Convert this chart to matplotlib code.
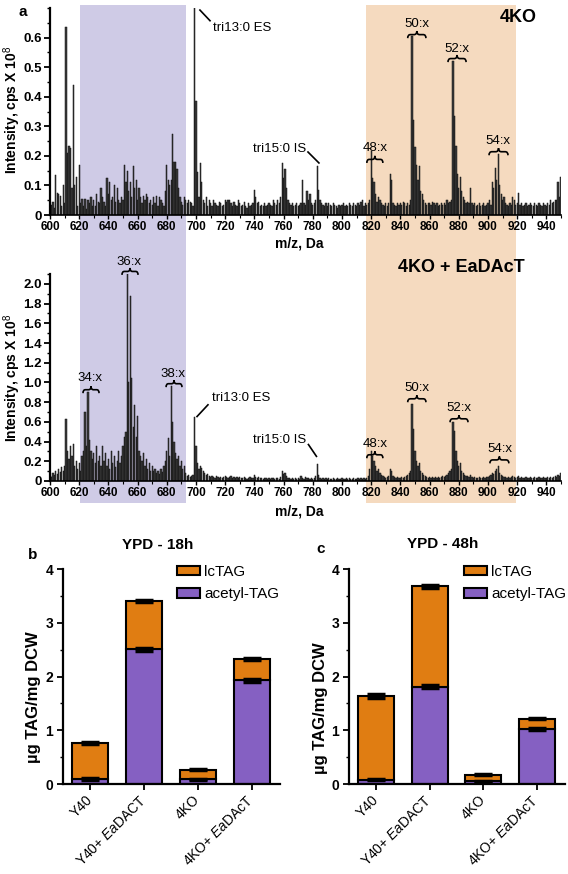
import matplotlib
matplotlib.use('Agg')
import matplotlib.pyplot as plt
from matplotlib.patches import Rectangle, Patch, PathPatch
from matplotlib.path import Path
from matplotlib.ticker import MultipleLocator
import matplotlib.transforms as mtrans
import numpy as np

plt.rcParams['font.family'] = ['Liberation Sans', 'DejaVu Sans']
plt.rcParams['mathtext.fontset'] = 'custom'
plt.rcParams['mathtext.rm'] = 'Liberation Sans'
plt.rcParams['mathtext.it'] = 'Liberation Sans:italic'
plt.rcParams['mathtext.bf'] = 'Liberation Sans:bold'

# ---------------- data ----------------
mz_start = 600
mz_end = 950

# 4KO spectrum, intensities (x 10^8 cps) for m/z 600..950
ko_intensity = [
    0.03, 0.035, 0.045, 0.025, 0.135, 0.075, 0.07, 0.065, 0.03, 0.10,
    0.04, 0.635, 0.21, 0.235, 0.225, 0.09, 0.44, 0.10, 0.13, 0.03,
    0.17, 0.04, 0.055, 0.03, 0.055, 0.02, 0.05, 0.04, 0.06, 0.03,
    0.05, 0.03, 0.07, 0.045, 0.04, 0.09, 0.06, 0.045, 0.03, 0.125,
    0.07, 0.11, 0.05, 0.06, 0.10, 0.045, 0.09, 0.05, 0.04, 0.06,
    0.05, 0.17, 0.11, 0.15, 0.08, 0.11, 0.06, 0.165, 0.09, 0.12,
    0.05, 0.09, 0.06, 0.04, 0.065, 0.05, 0.07, 0.06, 0.04, 0.05,
    0.035, 0.06, 0.04, 0.065, 0.03, 0.06, 0.05, 0.04, 0.03, 0.08,
    0.17, 0.12, 0.10, 0.12, 0.275, 0.18, 0.18, 0.155, 0.09, 0.06,
    0.045, 0.035, 0.06, 0.05, 0.04, 0.05, 0.045, 0.04, 0.03, 0.95,
    0.385, 0.145, 0.06, 0.175, 0.11, 0.05, 0.04, 0.06, 0.03, 0.05,
    0.04, 0.03, 0.05, 0.04, 0.035, 0.03, 0.045, 0.04, 0.03, 0.035,
    0.05, 0.045, 0.05, 0.05, 0.04, 0.03, 0.045, 0.035, 0.03, 0.05,
    0.04, 0.03, 0.035, 0.045, 0.03, 0.025, 0.04, 0.03, 0.035, 0.04,
    0.085, 0.06, 0.04, 0.045, 0.03, 0.035, 0.03, 0.04, 0.03, 0.035,
    0.04, 0.035, 0.03, 0.05, 0.04, 0.035, 0.05, 0.04, 0.06, 0.175,
    0.125, 0.155, 0.09, 0.05, 0.04, 0.035, 0.04, 0.03, 0.035, 0.04,
    0.03, 0.035, 0.04, 0.12, 0.04, 0.035, 0.08, 0.05, 0.07, 0.04,
    0.035, 0.04, 0.05, 0.167, 0.085, 0.05, 0.04, 0.035, 0.03, 0.04,
    0.03, 0.04, 0.035, 0.03, 0.04, 0.035, 0.03, 0.025, 0.035, 0.03,
    0.035, 0.04, 0.03, 0.035, 0.03, 0.04, 0.035, 0.03, 0.04, 0.035,
    0.03, 0.04, 0.035, 0.045, 0.05, 0.03, 0.04, 0.035, 0.04, 0.05,
    0.215, 0.125, 0.11, 0.07, 0.045, 0.06, 0.05, 0.04, 0.035, 0.03,
    0.04, 0.03, 0.04, 0.14, 0.12, 0.04, 0.035, 0.03, 0.04, 0.035,
    0.04, 0.035, 0.045, 0.04, 0.03, 0.04, 0.035, 0.05, 0.605, 0.32,
    0.23, 0.17, 0.12, 0.165, 0.08, 0.07, 0.05, 0.04, 0.035, 0.04,
    0.04, 0.035, 0.045, 0.04, 0.035, 0.04, 0.03, 0.035, 0.04, 0.035,
    0.04, 0.035, 0.05, 0.04, 0.045, 0.05, 0.52, 0.335, 0.235, 0.14,
    0.09, 0.13, 0.08, 0.06, 0.05, 0.04, 0.045, 0.04, 0.09, 0.04,
    0.035, 0.04, 0.03, 0.035, 0.04, 0.03, 0.035, 0.04, 0.03, 0.035,
    0.04, 0.05, 0.035, 0.11, 0.09, 0.16, 0.12, 0.205, 0.10, 0.07,
    0.05, 0.06, 0.04, 0.035, 0.03, 0.04, 0.035, 0.06, 0.05, 0.035,
    0.04, 0.075, 0.035, 0.04, 0.03, 0.035, 0.04, 0.03, 0.035, 0.04,
    0.035, 0.03, 0.04, 0.035, 0.03, 0.04, 0.035, 0.03, 0.04, 0.035,
    0.03, 0.04, 0.035, 0.05, 0.04, 0.045, 0.05, 0.05, 0.11, 0.06,
    0.13,
]

# 4KO + EaDAcT spectrum, intensities (x 10^8 cps) for m/z 600..950
ea_intensity = [
    0.05, 0.04, 0.08, 0.06, 0.10, 0.07, 0.12, 0.09, 0.14, 0.10,
    0.15, 0.63, 0.30, 0.22, 0.35, 0.25, 0.38, 0.15, 0.20, 0.12,
    0.18, 0.10, 0.25, 0.30, 0.70, 0.35, 0.90, 0.42, 0.30, 0.22,
    0.28, 0.18, 0.35, 0.20, 0.25, 0.15, 0.36, 0.20, 0.28, 0.15,
    0.22, 0.12, 0.30, 0.18, 0.25, 0.14, 0.20, 0.30, 0.18, 0.25,
    0.35, 0.45, 0.50, 2.10, 1.00, 1.88, 1.05, 0.55, 0.77, 0.45,
    0.66, 0.30, 0.25, 0.20, 0.28, 0.15, 0.22, 0.12, 0.18, 0.10,
    0.15, 0.10, 0.12, 0.08, 0.10, 0.07, 0.12, 0.09, 0.15, 0.20,
    0.30, 0.44, 0.25, 0.96, 0.60, 0.40, 0.28, 0.22, 0.25, 0.15,
    0.20, 0.12, 0.15, 0.08, 0.05, 0.06, 0.04, 0.05, 0.06, 0.65,
    0.36, 0.18, 0.12, 0.15, 0.13, 0.10, 0.08, 0.06, 0.07, 0.05,
    0.04, 0.05, 0.04, 0.03, 0.05, 0.04, 0.03, 0.04, 0.03, 0.04,
    0.05, 0.04, 0.03, 0.04, 0.05, 0.03, 0.04, 0.03, 0.04, 0.03,
    0.04, 0.03, 0.03, 0.04, 0.03, 0.02, 0.03, 0.04, 0.03, 0.03,
    0.06, 0.04, 0.03, 0.04, 0.03, 0.03, 0.02, 0.03, 0.03, 0.02,
    0.03, 0.02, 0.03, 0.03, 0.02, 0.03, 0.03, 0.02, 0.04, 0.10,
    0.07, 0.08, 0.05, 0.03, 0.03, 0.02, 0.03, 0.02, 0.03, 0.02,
    0.03, 0.02, 0.05, 0.03, 0.02, 0.04, 0.03, 0.03, 0.02, 0.03,
    0.02, 0.03, 0.05, 0.17, 0.06, 0.03, 0.02, 0.03, 0.02, 0.03,
    0.02, 0.03, 0.02, 0.02, 0.03, 0.02, 0.02, 0.03, 0.02, 0.02,
    0.03, 0.02, 0.02, 0.03, 0.02, 0.03, 0.02, 0.02, 0.03, 0.02,
    0.02, 0.03, 0.02, 0.03, 0.02, 0.03, 0.02, 0.03, 0.05, 0.12,
    0.30, 0.25, 0.20, 0.15, 0.10, 0.12, 0.08, 0.06, 0.05, 0.04,
    0.03, 0.04, 0.05, 0.12, 0.10, 0.05, 0.04, 0.03, 0.04, 0.03,
    0.03, 0.04, 0.03, 0.04, 0.05, 0.06, 0.08, 0.10, 0.78, 0.53,
    0.30, 0.20, 0.15, 0.18, 0.10, 0.08, 0.06, 0.05, 0.04, 0.03,
    0.04, 0.03, 0.04, 0.03, 0.04, 0.03, 0.04, 0.03, 0.04, 0.05,
    0.04, 0.05, 0.06, 0.08, 0.10, 0.12, 0.60, 0.51, 0.30, 0.20,
    0.15, 0.18, 0.10, 0.08, 0.06, 0.05, 0.05, 0.04, 0.06, 0.04,
    0.03, 0.04, 0.03, 0.03, 0.04, 0.03, 0.03, 0.04, 0.03, 0.04,
    0.04, 0.05, 0.06, 0.08, 0.07, 0.10, 0.12, 0.15, 0.08, 0.06,
    0.05, 0.04, 0.04, 0.03, 0.04, 0.03, 0.04, 0.05, 0.04, 0.03,
    0.04, 0.05, 0.03, 0.04, 0.03, 0.03, 0.04, 0.03, 0.03, 0.04,
    0.03, 0.03, 0.04, 0.03, 0.03, 0.04, 0.03, 0.03, 0.04, 0.03,
    0.03, 0.04, 0.03, 0.04, 0.03, 0.04, 0.05, 0.04, 0.06, 0.05,
    0.08,
]

ko_yticks = [0, 0.1, 0.2, 0.3, 0.4, 0.5, 0.6]
ko_yticklabels = ['0', '0.1', '0.2', '0.3', '0.4', '0.5', '0.6']
ea_yticks = [0, 0.2, 0.4, 0.6, 0.8, 1.0, 1.2, 1.4, 1.6, 1.8, 2.0]
ea_yticklabels = ['0', '0.2', '0.4', '0.6', '0.8', '1.0', '1.2', '1.4', '1.6', '1.8', '2.0']
mz_ticks = list(range(600, 941, 20))

strains = ['Y40', r'Y40+ $\mathit{Ea}$DACT', '4KO', r'4KO+ $\mathit{Ea}$DAcT']
# YPD - 18h
b_acetyl = [0.10, 2.51, 0.09, 1.93]
b_lc = [0.66, 0.90, 0.18, 0.40]
b_err_acetyl = [0.02, 0.03, 0.01, 0.03]
b_err_total = [0.02, 0.02, 0.01, 0.02]
# YPD - 48h
c_acetyl = [0.08, 1.81, 0.05, 1.02]
c_lc = [1.56, 1.87, 0.12, 0.20]
c_err_acetyl = [0.01, 0.03, 0.01, 0.02]
c_err_total = [0.03, 0.02, 0.01, 0.01]

# ---------------- style ----------------
W, H = 568, 874
ORANGE = '#E07D12'
PURPLE = '#8560C2'
BLUE_SHADE = '#CFCBE6'
ORANGE_SHADE = '#F5DABF'
BAR_GRAY = '#3a3a3a'


def fx(px):
    return px / W


def fy(py):
    return 1 - py / H


fig = plt.figure(figsize=(W / 100, H / 100), dpi=100)

ax1 = fig.add_axes([fx(50), fy(215), 511 / W, 207 / H])
ax2 = fig.add_axes([fx(50), fy(481), 511 / W, 207 / H])

mz = np.arange(mz_start, mz_end + 1)

for ax, vals, ylim, yt, ytl, minor in [
        (ax1, ko_intensity, 0.70, ko_yticks, ko_yticklabels, 0.05),
        (ax2, ea_intensity, 2.10, ea_yticks, ea_yticklabels, 0.1)]:
    ax.patch.set_facecolor('none')
    ax.bar(mz, vals, width=0.85, color=BAR_GRAY, edgecolor='#111111',
           linewidth=0.35, zorder=2)
    ax.set_xlim(600, 950)
    ax.set_ylim(0, ylim)
    ax.spines['top'].set_visible(False)
    ax.spines['right'].set_visible(False)
    ax.spines['left'].set_linewidth(1.6)
    ax.spines['bottom'].set_linewidth(1.2)
    ax.set_xticks(mz_ticks)
    ax.set_xticklabels([str(t) for t in mz_ticks])
    ax.set_yticks(yt)
    ax.set_yticklabels(ytl)
    ax.yaxis.set_minor_locator(MultipleLocator(minor))
    ax.xaxis.set_minor_locator(MultipleLocator(10))
    ax.tick_params(axis='y', which='major', direction='out', length=4,
                   width=1.3, labelsize=9.5, pad=2)
    ax.tick_params(axis='y', which='minor', direction='out', length=2.5,
                   width=1.0)
    ax.tick_params(axis='x', which='major', direction='out', length=3,
                   width=1.0, labelsize=8.5, pad=1.5)
    ax.tick_params(axis='x', which='minor', direction='out', length=2,
                   width=0.8)
    for lab in ax.get_xticklabels() + ax.get_yticklabels():
        lab.set_fontweight('bold')

# figure-level shaded m/z windows spanning both spectra
trans = mtrans.blended_transform_factory(ax1.transData, fig.transFigure)
for x0, x1, col in [(620.5, 693.0, BLUE_SHADE), (816.5, 919.0, ORANGE_SHADE)]:
    r = Rectangle((x0, fy(503)), x1 - x0, fy(5) - fy(503), transform=trans,
                  facecolor=col, edgecolor='none', zorder=-5)
    fig.add_artist(r)


def brace(ax, x1, x2, y, h):
    w = x2 - x1
    xm = (x1 + x2) / 2
    verts = [(x1, y - h), (x1, y), (x1 + 0.15 * w, y),
             (xm - 0.15 * w, y), (xm, y), (xm, y + h),
             (xm, y), (xm + 0.15 * w, y),
             (x2 - 0.15 * w, y), (x2, y), (x2, y - h)]
    codes = [Path.MOVETO, Path.CURVE3, Path.CURVE3,
             Path.LINETO, Path.CURVE3, Path.CURVE3,
             Path.CURVE3, Path.CURVE3,
             Path.LINETO, Path.CURVE3, Path.CURVE3]
    p = PathPatch(Path(verts, codes), facecolor='none', edgecolor='black',
                  lw=1.2, clip_on=False, zorder=5)
    ax.add_patch(p)


def label(ax, txt, x, y):
    ax.text(x, y, txt, ha='center', va='center', fontsize=9.5, zorder=6,
            clip_on=False)


# annotations, panel a top (4KO)
h1 = 0.012
for txt, tx, ty, bx1, bx2, by in [('48:x', 822.6, 0.225, 817, 828, 0.188),
                                  ('50:x', 851.4, 0.645, 845, 857.5, 0.610),
                                  ('52:x', 878.8, 0.563, 872.6, 885, 0.529),
                                  ('54:x', 906.8, 0.249, 900.7, 913.7, 0.214)]:
    label(ax1, txt, tx, ty)
    brace(ax1, bx1, bx2, by, h1)
ax1.text(711.5, 0.632, 'tri13:0 ES', ha='left', va='center', fontsize=9.5)
ax1.plot([702.7, 709.6], [0.693, 0.657], color='black', lw=1.2, clip_on=False)
ax1.text(775.5, 0.223, 'tri15:0 IS', ha='right', va='center', fontsize=9.5)
ax1.plot([776.7, 784.2], [0.213, 0.176], color='black', lw=1.2)

# annotations, panel a bottom (4KO + EaDAcT)
h2 = 0.035
for txt, tx, ty, bx1, bx2, by in [('34:x', 627.4, 1.04, 622.6, 633.6, 0.926),
                                  ('36:x', 654.1, 2.225, 649.3, 660.3, 2.126),
                                  ('38:x', 684.2, 1.09, 679.5, 690.4, 0.987),
                                  ('48:x', 822.6, 0.38, 817, 828, 0.266),
                                  ('50:x', 851.4, 0.946, 845, 857.5, 0.834),
                                  ('52:x', 880.0, 0.743, 874, 886.3, 0.631),
                                  ('54:x', 908.0, 0.32, 901.3, 914.3, 0.214)]:
    label(ax2, txt, tx, ty)
    brace(ax2, bx1, bx2, by, h2)
ax2.text(711.0, 0.847, 'tri13:0 ES', ha='left', va='center', fontsize=9.5)
ax2.plot([700.7, 708.2], [0.654, 0.773], color='black', lw=1.2)
ax2.text(775.5, 0.42, 'tri15:0 IS', ha='right', va='center', fontsize=9.5)
ax2.plot([777.0, 782.5], [0.37, 0.25], color='black', lw=1.2)

# texts of panel a
fig.text(fx(23), fy(12), 'a', fontsize=11, fontweight='bold', ha='center', va='center')
fig.text(fx(518), fy(17), '4KO', fontsize=13, fontweight='bold', ha='center', va='center')
fig.text(fx(461), fy(267), '4KO + EaDAcT', fontsize=13, fontweight='bold', ha='center', va='center')
for yc in (110, 378):
    fig.text(fx(12), fy(yc), r'Intensity, cps X 10$^{8}$', fontsize=10,
             fontweight='bold', rotation=90, ha='center', va='center')
for yc in (244, 512):
    fig.text(fx(299), fy(yc), 'm/z, Da', fontsize=10, fontweight='bold',
             ha='center', va='center')

# ---------------- bar charts ----------------
axb = fig.add_axes([fx(63), fy(784), 217 / W, 214.7 / H])
axc = fig.add_axes([fx(349), fy(784), 216 / W, 214.7 / H])

x = np.arange(len(strains))
for ax, acetyl, lc, ea, et, title, tpos, letter, lpos, ylpos, legx in [
        (axb, b_acetyl, b_lc, b_err_acetyl, b_err_total, 'YPD - 18h', (158, 545), 'b', (33, 555), (34, 697), 0.525),
        (axc, c_acetyl, c_lc, c_err_acetyl, c_err_total, 'YPD - 48h', (443, 544), 'c', (321, 549), (321, 708), 0.532)]:
    ax.patch.set_facecolor('none')
    total = [a + l for a, l in zip(acetyl, lc)]
    ax.bar(x, acetyl, width=0.67, color=PURPLE, edgecolor='black', linewidth=1.5, zorder=2)
    ax.bar(x, lc, bottom=acetyl, width=0.67, color=ORANGE, edgecolor='black', linewidth=1.5, zorder=2)
    ax.errorbar(x, acetyl, yerr=ea, fmt='none', ecolor='black', elinewidth=1.5,
                capsize=6.5, capthick=2.5, zorder=3)
    ax.errorbar(x, total, yerr=et, fmt='none', ecolor='black', elinewidth=1.5,
                capsize=6.5, capthick=2.5, zorder=3)
    ax.set_xlim(-0.51, 3.53)
    ax.set_ylim(0, 4)
    ax.spines['top'].set_visible(False)
    ax.spines['right'].set_visible(False)
    ax.spines['left'].set_linewidth(1.6)
    ax.spines['bottom'].set_linewidth(1.6)
    ax.set_yticks([0, 1, 2, 3, 4])
    ax.set_yticklabels(['0', '1', '2', '3', '4'])
    ax.yaxis.set_minor_locator(MultipleLocator(0.5))
    ax.tick_params(axis='y', which='major', direction='out', length=4, width=1.3, labelsize=10, pad=3)
    ax.tick_params(axis='y', which='minor', direction='out', length=2.5, width=1.0)
    for lab in ax.get_yticklabels():
        lab.set_fontweight('bold')
    ax.set_xticks(x)
    ax.set_xticklabels(strains, rotation=45, ha='right', va='center',
                       rotation_mode='anchor', fontsize=10)
    ax.tick_params(axis='x', direction='out', length=4, width=1.3, pad=6)
    handles = [Patch(facecolor=ORANGE, edgecolor='black', linewidth=1.5, label='lcTAG'),
               Patch(facecolor=PURPLE, edgecolor='black', linewidth=1.5, label='acetyl-TAG')]
    ax.legend(handles=handles, loc='upper left', bbox_to_anchor=(legx, 1.02),
              frameon=False, fontsize=11, borderpad=0, borderaxespad=0,
              handlelength=1.5, handleheight=0.6, handletextpad=0.3,
              labelspacing=0.55)
    fig.text(fx(tpos[0]), fy(tpos[1]), title, fontsize=11, fontweight='bold', ha='center', va='center')
    fig.text(fx(lpos[0]), fy(lpos[1]), letter, fontsize=11, fontweight='bold', ha='center', va='center')
    fig.text(fx(ylpos[0]), fy(ylpos[1]), 'µg TAG/mg DCW', fontsize=12, fontweight='bold',
             rotation=90, ha='center', va='center')

fig.savefig('out.png', dpi=100)
